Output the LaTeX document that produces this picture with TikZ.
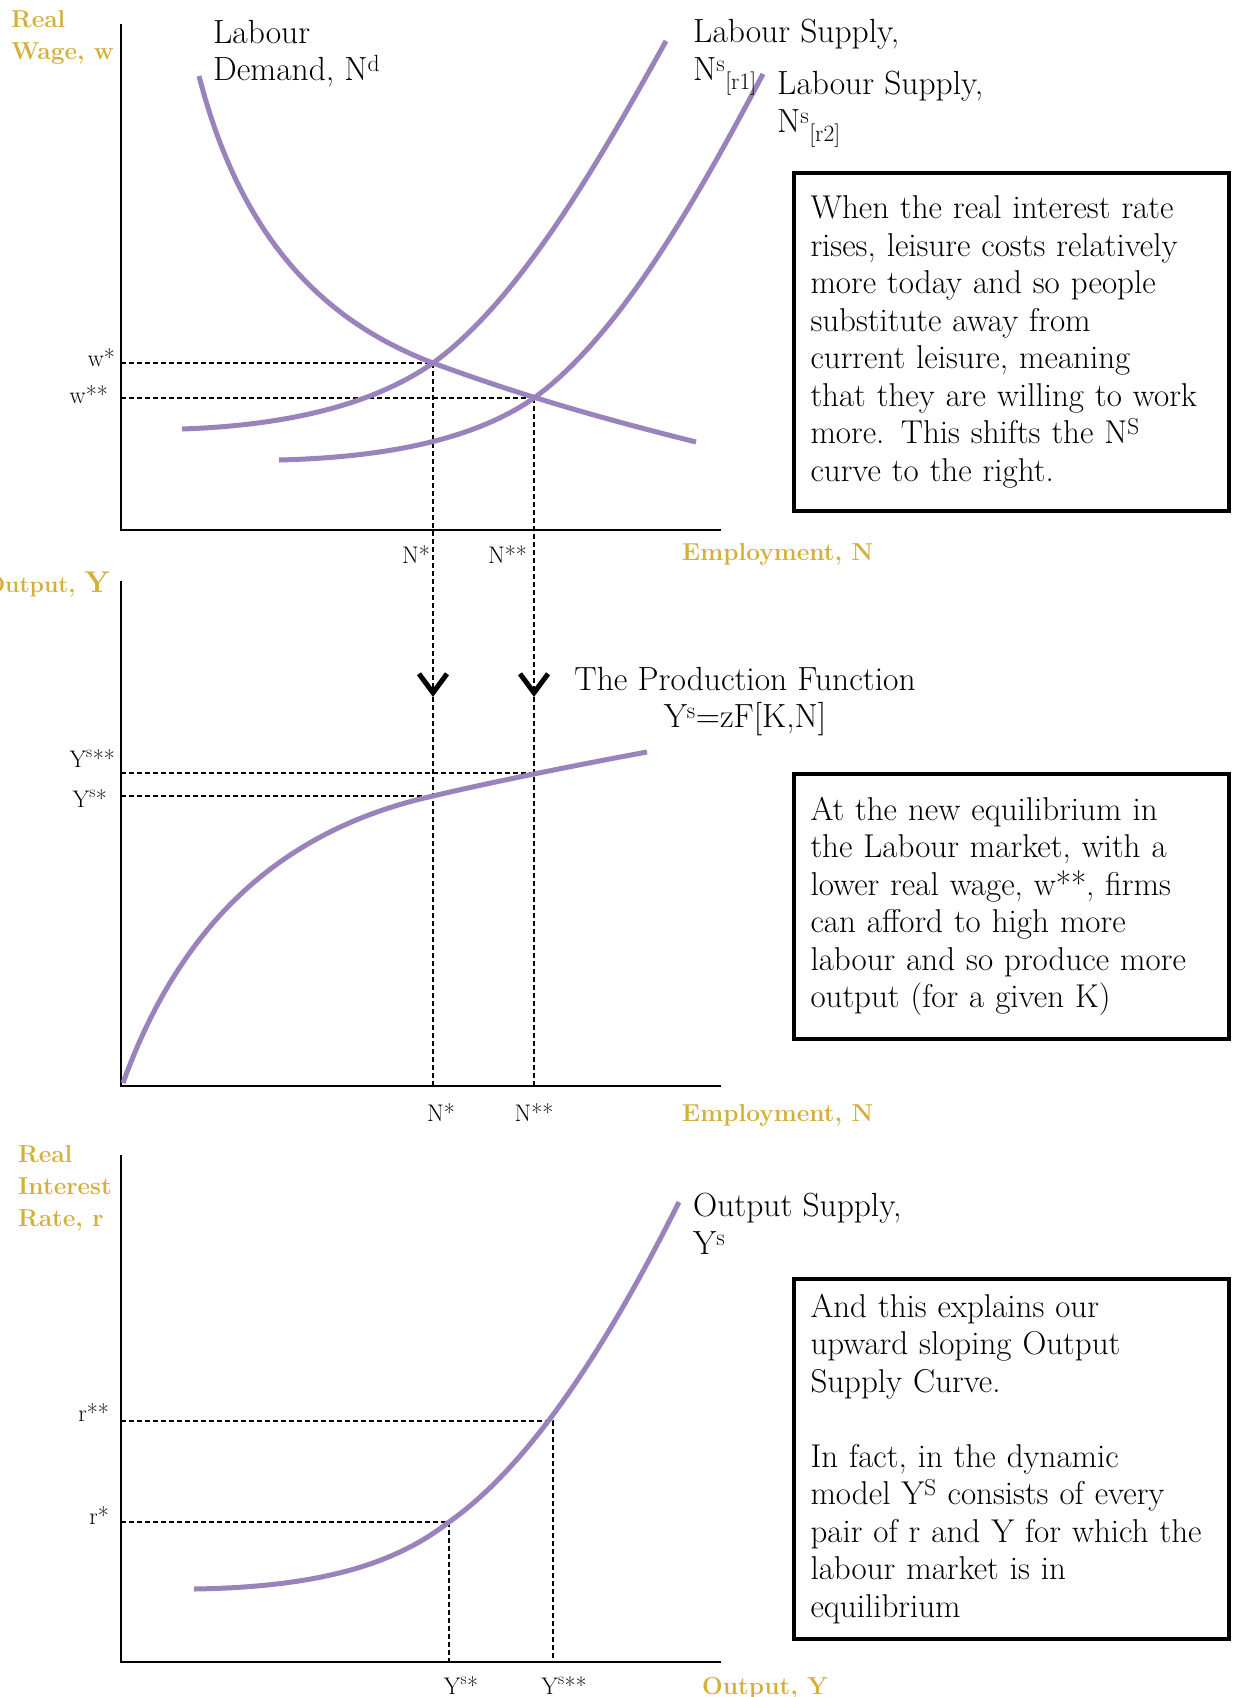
\documentclass[tikz,border=0pt]{standalone}
\usepackage{tikz}
\usetikzlibrary{positioning,arrows.meta,calc}
\definecolor{gold}{HTML}{D4AF3C}
\definecolor{lilac}{HTML}{9A82BC}

\begin{document}
\begin{tikzpicture}[x=1pt, y=-1pt,
    axis/.style={line width=2.2pt},
    curve/.style={draw=lilac, line width=5pt},
    guide/.style={line width=1.6pt, dash pattern=on 5pt off 3pt},
    drop/.style={guide, -{Straight Barb[length=19pt, width=28pt, line width=5pt]}},
    tick/.style={font=\fontsize{24}{28}\selectfont, inner sep=0pt},
    goldlab/.style={text=gold, font=\fontsize{24.5}{32}\selectfont\bfseries, align=left, inner sep=0pt},
    curvelab/.style={font=\fontsize{33.5}{37.5}\selectfont, align=left, inner sep=0pt, anchor=north west},
    note/.style={draw, line width=4pt, anchor=north west, text width=402pt, inner xsep=16.5pt, align=left, font=\fontsize{33}{37.5}\selectfont}
]
    \useasboundingbox (0,0) rectangle (1232,1697);

    \coordinate (O1) at (121,530);
    \coordinate (O2) at (121,1086);
    \coordinate (O3) at (121,1662);
    \coordinate (E1) at (433,363);
    \coordinate (E2) at (534,398);
    \coordinate (P1) at (433,796);
    \coordinate (P2) at (534,773);
    \coordinate (R1) at (449,1522);
    \coordinate (R2) at (553,1421);
    \coordinate (A1) at (433,697);
    \coordinate (A2) at (534,697);

    % labour market
    \draw[axis] (121,24) -- (O1) -- (721,530);
    \draw[guide] (O1 |- E1) -- (E1);
    \draw[guide] (O1 |- E2) -- (E2);
    \draw[drop] (E1) -- (A1);
    \draw[drop] (E2) -- (A2);
    \draw[guide] (A1) -- (A1 |- O2);
    \draw[guide] (A2) -- (A2 |- O2);
    \draw[curve] (182,429) .. controls (300,425) and (380,400) .. (E1) .. controls (520,300) and (600,160) .. (666,41);
    \draw[curve] (279,460) .. controls (400,457) and (481,435) .. (E2) .. controls (621,335) and (700,193) .. (763,74);
    \draw[curve] (199,76) .. controls (240,235) and (320,320) .. (E1) .. controls (520,395) and (600,418) .. (696,442);

    \node[goldlab, anchor=north west] (wlab) at (11,10) {Real\\Wage, w};
    \node[goldlab, anchor=base west] (nlab1) at (682,560) {Employment, N};
    \node[tick, anchor=base east] (wstar) at ($(O1 |- E1)+(-6,3)$) {w*};
    \node[tick, anchor=base east] (wstar2) at ($(O1 |- E2)+(-13,5)$) {w**};
    \node[tick, anchor=base east] (nstar) at ($(E1 |- O1)+(-3,33)$) {N*};
    \node[tick, anchor=base east] (nstar2) at ($(E2 |- O1)+(-7,33)$) {N**};
    \node[curvelab] (ndlab) at (213,20) {Labour\\Demand, N\textsuperscript{d}};
    \node[curvelab] (ns1lab) at (693,19) {Labour Supply,\\N\textsuperscript{s}\textsubscript{[r1]}};
    \node[curvelab] (ns2lab) at (777,71) {Labour Supply,\\N\textsuperscript{s}\textsubscript{[r2]}};
    \node[note, minimum height=338pt] (why) at (792,171) {When the real interest rate\\rises, leisure costs relatively\\more today and so people\\substitute away from\\current leisure, meaning\\that they are willing to work\\more. This shifts the N\textsuperscript{S}\\curve to the right.};

    % production function
    \draw[axis] (121,581) -- (O2) -- (721,1086);
    \draw[guide] (O2 |- P1) -- (P1);
    \draw[guide] (O2 |- P2) -- (P2);
    \draw[curve] (123,1083) .. controls (180,925) and (280,830) .. (P1) .. controls (470,787) and (560,768) .. (647,752);

    \node[goldlab, anchor=base east] (ylab) at (110,592) {\fontsize{23}{23}\selectfont Output, {\fontsize{30}{30}\selectfont Y}};
    \node[goldlab, anchor=base west] (nlab2) at (682,1121) {Employment, N};
    \node[tick, anchor=base east] (ysstar2) at ($(O2 |- P2)+(-6,-6)$) {Y\textsuperscript{s}**};
    \node[tick, anchor=base east] (ysstar) at ($(O2 |- P1)+(-14,11)$) {Y\textsuperscript{s}*};
    \node[tick, anchor=base] (nstarb) at ($(P1 |- O2)+(8,35)$) {N*};
    \node[tick, anchor=base] (nstarb2) at ($(P2 |- O2)+(0,35)$) {N**};
    \node[curvelab, anchor=north, align=center] (pflab) at (745,667) {The Production Function\\Y\textsuperscript{s}=zF[K,N]};
    \node[note, minimum height=265pt] (eqm) at (792,772) {At the new equilibrium in\\the Labour market, with a\\lower real wage, w**, firms\\can afford to high more\\labour and so produce more\\output (for a given K)};

    % output supply
    \draw[axis] (121,1155) -- (O3) -- (721,1662);
    \draw[guide] (O3 |- R1) -- (R1) -- (R1 |- O3);
    \draw[guide] (O3 |- R2) -- (R2) -- (R2 |- O3);
    \draw[curve] (194,1589) .. controls (330,1587) and (400,1560) .. (R1) .. controls (540,1458) and (620,1320) .. (679,1202);

    \node[goldlab, anchor=north west] (rlab) at (18,1145) {Real\\Interest\\Rate, r};
    \node[goldlab, anchor=base west] (ylab2) at (702,1694) {Output, Y};
    \node[tick, anchor=base east] (rstar2) at ($(O3 |- R2)+(-12,0)$) {r**};
    \node[tick, anchor=base east] (rstar) at ($(O3 |- R1)+(-12,2)$) {r*};
    \node[tick, anchor=base] (ysb) at ($(R1 |- O3)+(12,32)$) {Y\textsuperscript{s}*};
    \node[tick, anchor=base] (ysb2) at ($(R2 |- O3)+(11,32)$) {Y\textsuperscript{s}**};
    \node[curvelab] (oslab) at (693,1193) {Output Supply,\\Y\textsuperscript{s}};
    \node[note, minimum height=360pt] (ys) at (792,1277) {And this explains our\\upward sloping Output\\Supply Curve.\\[37.5pt]In fact, in the dynamic\\model Y\textsuperscript{S} consists of every\\\mbox{pair of r and Y for which the}\\labour market is in\\equilibrium};
\end{tikzpicture}
\end{document}
